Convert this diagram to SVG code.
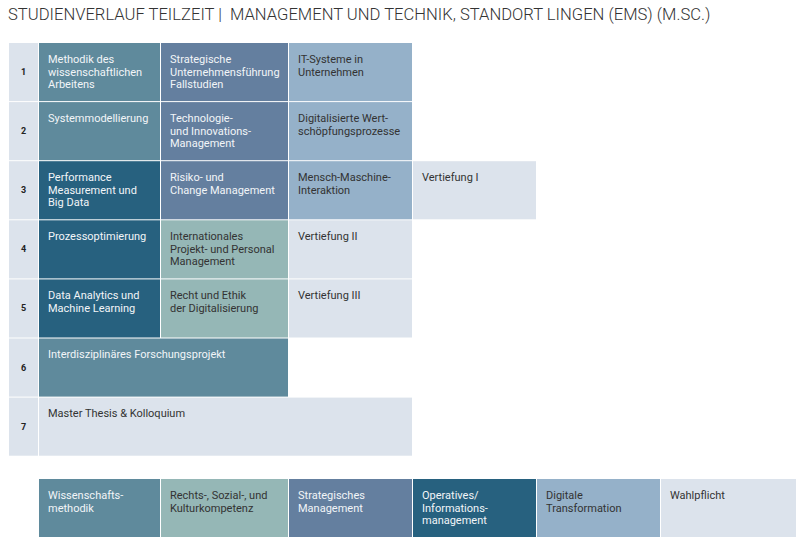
<svg xmlns="http://www.w3.org/2000/svg" width="800" height="542" viewBox="0 0 800 542">
<style>
text{font-family:Roboto,"Liberation Sans",sans-serif;}
.title{font-size:16.6px;fill:#333;font-weight:300;white-space:pre;}
.num{font-size:9px;font-weight:bold;fill:#222;text-anchor:middle;}
.t{font-size:11px;}
.w{fill:#f2f5f8;}
.d{fill:#333;}
.teal{fill:#5f8a9c;}
.slate{fill:#647f9f;}
.lb{fill:#95b1c9;}
.db{fill:#27617f;}
.sage{fill:#95b7b6;}
.lt{fill:#dce3ec;}
</style>
<rect width="800" height="542" fill="#fff"/>
<text class="title" x="8" y="20">STUDIENVERLAUF TEILZEIT |  MANAGEMENT UND TECHNIK, STANDORT LINGEN (EMS) (M.SC.)</text>

<g id="semester-numbers">
<rect class="lt" x="9" y="43" width="29" height="58.1"/>
<rect class="lt" x="9" y="102.1" width="29" height="58.1"/>
<rect class="lt" x="9" y="161.2" width="29" height="58.1"/>
<rect class="lt" x="9" y="220.3" width="29" height="58.1"/>
<rect class="lt" x="9" y="279.4" width="29" height="58.1"/>
<rect class="lt" x="9" y="338.5" width="29" height="58.1"/>
<rect class="lt" x="9" y="397.6" width="29" height="58.1"/>
<text class="num" x="23.5" y="75">1</text>
<text class="num" x="23.5" y="134">2</text>
<text class="num" x="23.5" y="193">3</text>
<text class="num" x="23.5" y="252">4</text>
<text class="num" x="23.5" y="311">5</text>
<text class="num" x="23.5" y="371">6</text>
<text class="num" x="23.5" y="430">7</text>
</g>

<g id="n-methodik"><rect class="teal" x="39" y="43" width="121" height="58.1"/>
<text class="t w" x="48" y="63"><tspan x="48">Methodik des</tspan><tspan x="48" dy="12.7">wissenschaftlichen</tspan><tspan x="48" dy="12.7">Arbeitens</tspan></text></g>
<g id="n-strategische"><rect class="slate" x="161" y="43" width="127" height="58.1"/>
<text class="t w" x="170" y="63"><tspan x="170">Strategische</tspan><tspan x="170" dy="12.7">Unternehmensführung</tspan><tspan x="170" dy="12.7">Fallstudien</tspan></text></g>
<g id="n-itsysteme"><rect class="lb" x="289" y="43" width="123" height="58.1"/>
<text class="t d" x="298" y="63"><tspan x="298">IT-Systeme in</tspan><tspan x="298" dy="12.7">Unternehmen</tspan></text></g>

<g id="n-system"><rect class="teal" x="39" y="102.1" width="121" height="58.1"/>
<text class="t w" x="48" y="122">Systemmodellierung</text></g>
<g id="n-technologie"><rect class="slate" x="161" y="102.1" width="127" height="58.1"/>
<text class="t w" x="170" y="122"><tspan x="170">Technologie-</tspan><tspan x="170" dy="12.7">und Innovations-</tspan><tspan x="170" dy="12.7">Management</tspan></text></g>
<g id="n-digitalisierte"><rect class="lb" x="289" y="102.1" width="123" height="58.1"/>
<text class="t d" x="298" y="122"><tspan x="298">Digitalisierte Wert-</tspan><tspan x="298" dy="12.7">schöpfungsprozesse</tspan></text></g>

<g id="n-performance"><rect class="db" x="39" y="161.2" width="121" height="58.1"/>
<text class="t w" x="48" y="181"><tspan x="48">Performance</tspan><tspan x="48" dy="12.7">Measurement und</tspan><tspan x="48" dy="12.7">Big Data</tspan></text></g>
<g id="n-risiko"><rect class="slate" x="161" y="161.2" width="127" height="58.1"/>
<text class="t w" x="170" y="181"><tspan x="170">Risiko- und</tspan><tspan x="170" dy="12.7">Change Management</tspan></text></g>
<g id="n-mensch"><rect class="lb" x="289" y="161.2" width="123" height="58.1"/>
<text class="t d" x="298" y="181"><tspan x="298">Mensch-Maschine-</tspan><tspan x="298" dy="12.7">Interaktion</tspan></text></g>
<g id="n-vertiefung1"><rect class="lt" x="413" y="161.2" width="123" height="58.1"/>
<text class="t d" x="422" y="181">Vertiefung I</text></g>

<g id="n-prozess"><rect class="db" x="39" y="220.3" width="121" height="58.1"/>
<text class="t w" x="48" y="240">Prozessoptimierung</text></g>
<g id="n-international"><rect class="sage" x="161" y="220.3" width="127" height="58.1"/>
<text class="t d" x="170" y="240"><tspan x="170">Internationales</tspan><tspan x="170" dy="12.7">Projekt- und Personal</tspan><tspan x="170" dy="12.7">Management</tspan></text></g>
<g id="n-vertiefung2"><rect class="lt" x="289" y="220.3" width="123" height="58.1"/>
<text class="t d" x="298" y="240">Vertiefung II</text></g>

<g id="n-data"><rect class="db" x="39" y="279.4" width="121" height="58.1"/>
<text class="t w" x="48" y="299"><tspan x="48">Data Analytics und</tspan><tspan x="48" dy="12.7">Machine Learning</tspan></text></g>
<g id="n-recht"><rect class="sage" x="161" y="279.4" width="127" height="58.1"/>
<text class="t d" x="170" y="299"><tspan x="170">Recht und Ethik</tspan><tspan x="170" dy="12.7">der Digitalisierung</tspan></text></g>
<g id="n-vertiefung3"><rect class="lt" x="289" y="279.4" width="123" height="58.1"/>
<text class="t d" x="298" y="299">Vertiefung III</text></g>

<g id="n-forschung"><rect class="teal" x="39" y="338.5" width="249" height="58.1"/>
<text class="t w" x="48" y="358">Interdisziplinäres Forschungsprojekt</text></g>
<g id="n-thesis"><rect class="lt" x="39" y="397.6" width="373" height="58.1"/>
<text class="t d" x="48" y="417">Master Thesis &amp; Kolloquium</text></g>

<g id="legend">
<g id="l-wiss"><rect class="teal" x="39" y="479" width="121" height="58"/>
<text class="t w" x="48" y="499"><tspan x="48">Wissenschafts-</tspan><tspan x="48" dy="12.7">methodik</tspan></text></g>
<g id="l-rechts"><rect class="sage" x="161" y="479" width="127" height="58"/>
<text class="t d" x="170" y="499"><tspan x="170">Rechts-, Sozial-, und</tspan><tspan x="170" dy="12.7">Kulturkompetenz</tspan></text></g>
<g id="l-strat"><rect class="slate" x="289" y="479" width="123" height="58"/>
<text class="t w" x="298" y="499"><tspan x="298">Strategisches</tspan><tspan x="298" dy="12.7">Management</tspan></text></g>
<g id="l-oper"><rect class="db" x="413" y="479" width="123" height="58"/>
<text class="t w" x="422" y="499"><tspan x="422">Operatives/</tspan><tspan x="422" dy="12.7">Informations-</tspan><tspan x="422" dy="12.7">management</tspan></text></g>
<g id="l-digital"><rect class="lb" x="537" y="479" width="123" height="58"/>
<text class="t d" x="546" y="499"><tspan x="546">Digitale</tspan><tspan x="546" dy="12.7">Transformation</tspan></text></g>
<g id="l-wahl"><rect class="lt" x="661" y="479" width="135" height="58"/>
<text class="t d" x="670" y="499">Wahlpflicht</text></g>
</g>
<g id="connectors"/>
</svg>
